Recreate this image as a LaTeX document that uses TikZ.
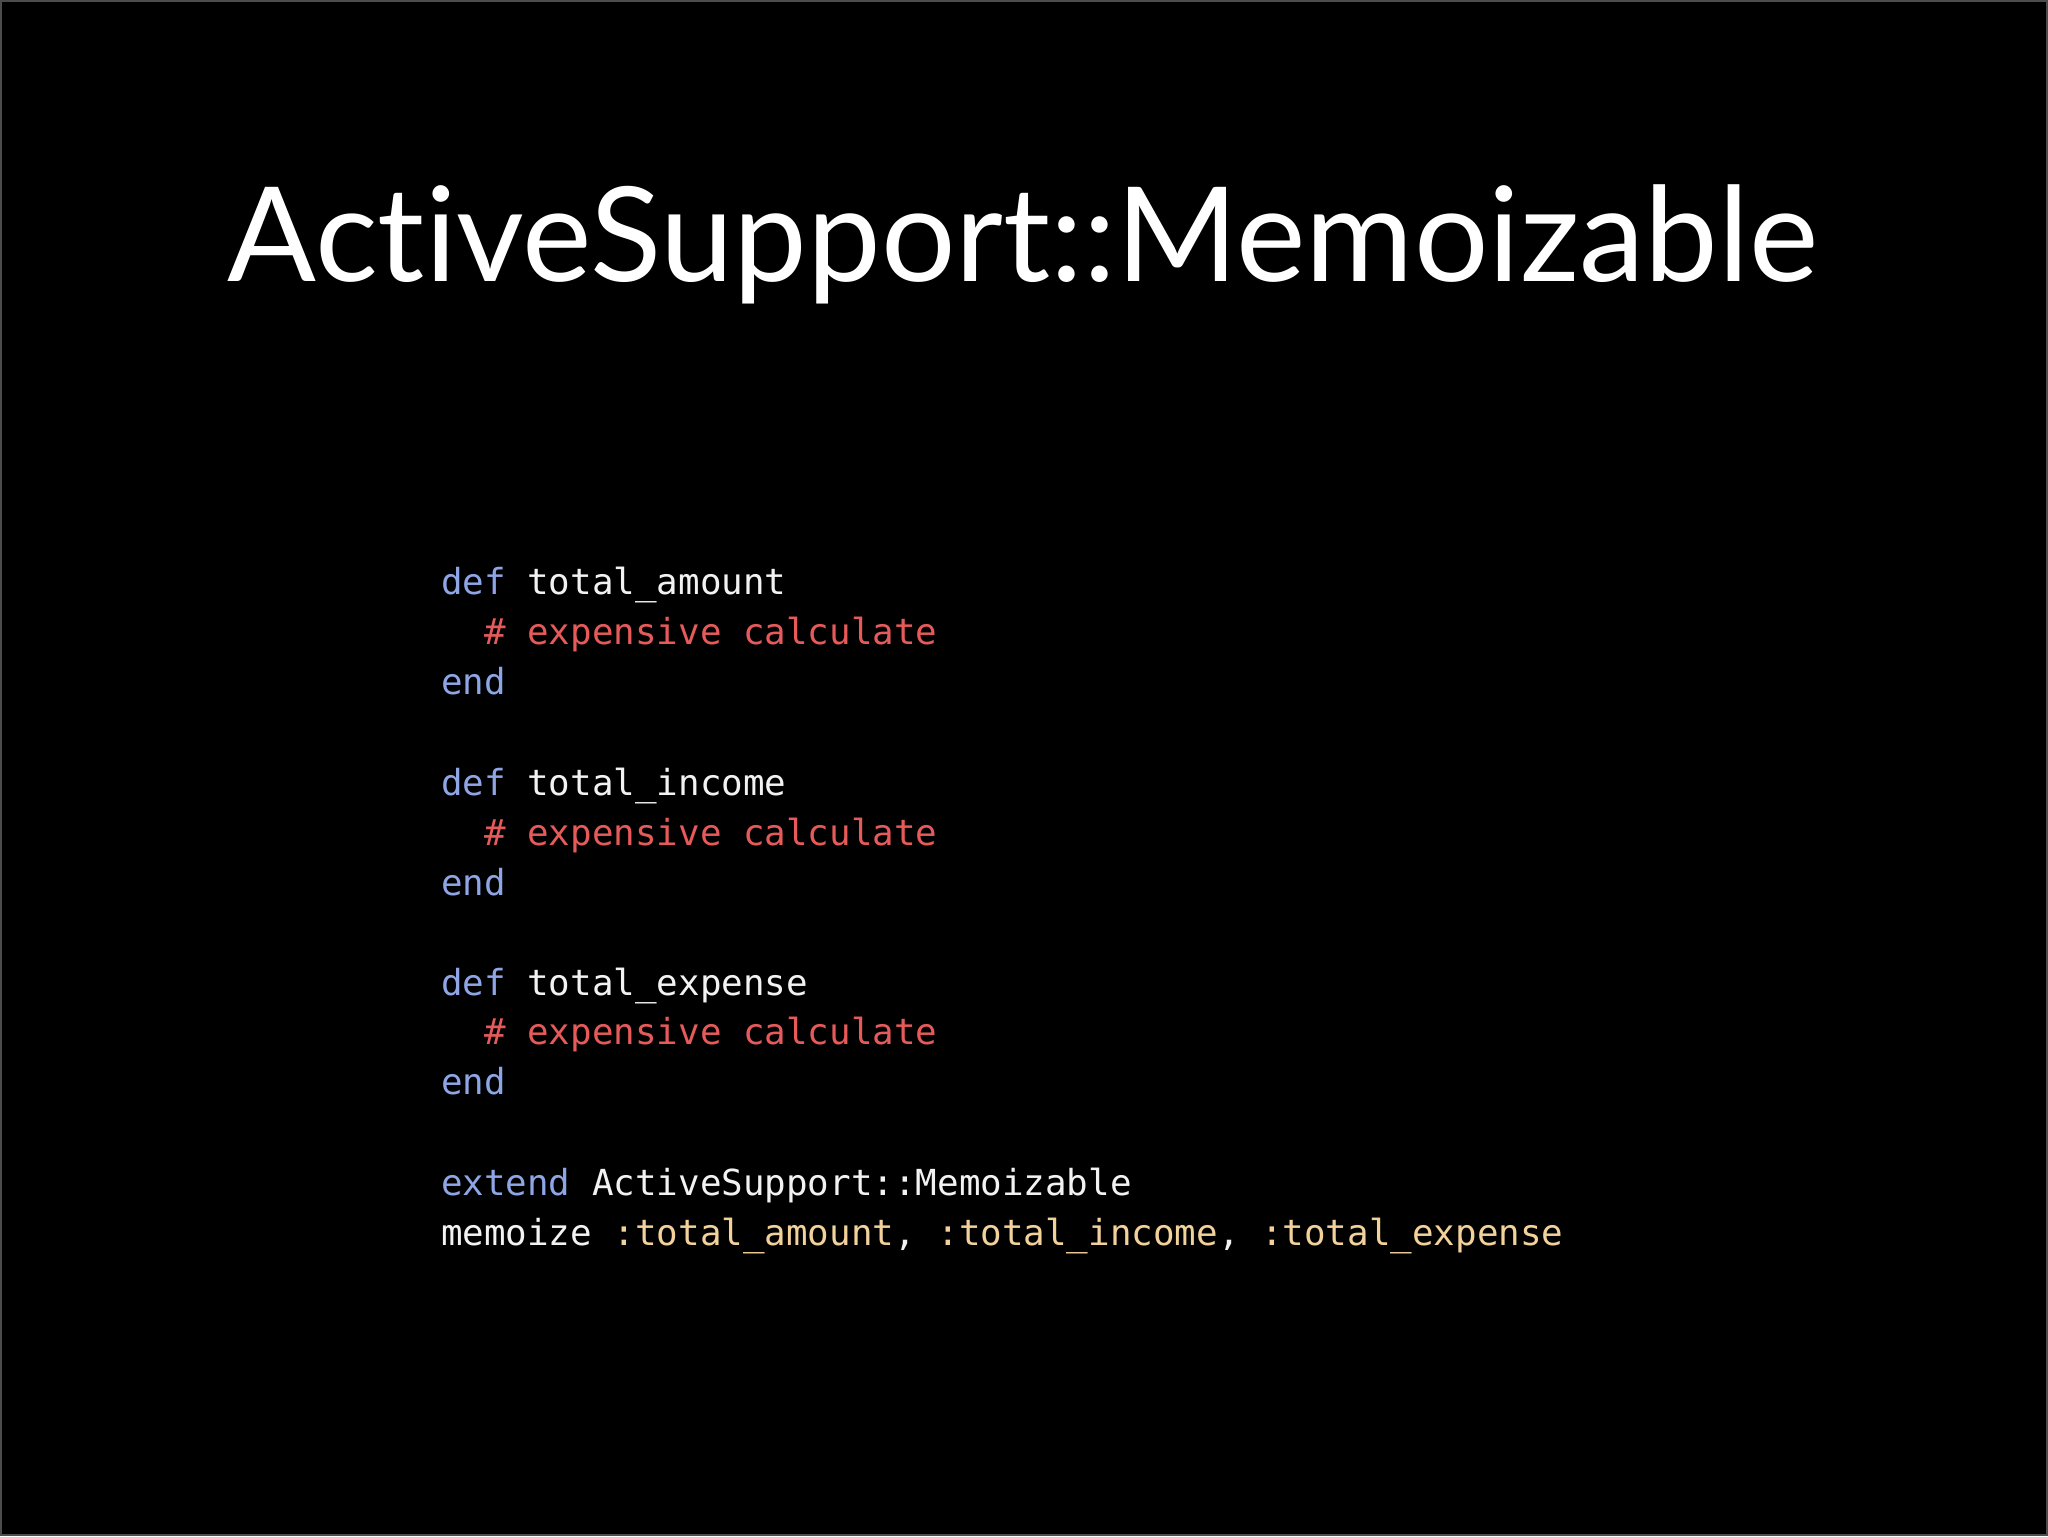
\documentclass[tikz,border=0pt]{standalone}
\usepackage{fontspec}
\setmainfont[Ligatures={NoCommon}]{Lato}
\setmonofont{DejaVu Sans Mono}
\definecolor{kw}{HTML}{8FA6E6}
\definecolor{cm}{HTML}{E65A5A}
\definecolor{sy}{HTML}{F2D29A}
\definecolor{fg}{HTML}{F2F2F2}
\begin{document}
\begin{tikzpicture}[x=0.01cm,y=-0.01cm,
  code/.style={anchor=base west,inner sep=0,text=fg,font=\ttfamily\fontsize{10.2pt}{12pt}\selectfont}]
\fill[black] (0,0) rectangle (2048,1536);
\draw[gray!60!black,line width=0.6pt] (0.5,0.5) rectangle (2047.5,1535.5);
\node[anchor=base,inner sep=0,text=white,font=\fontsize{37.4pt}{40pt}\selectfont] (title) at (1023,281) {ActiveSupport::Memoizable};
\def\L{440}
\node[code] (l1) at (\L,594) {\textcolor{kw}{def} total\_amount};
\node[code] (l2) at (\L,644) {\textcolor{cm}{\ \ \# expensive calculate}};
\node[code] (l3) at (\L,694) {\textcolor{kw}{end}};
\node[code] (l5) at (\L,795) {\textcolor{kw}{def} total\_income};
\node[code] (l6) at (\L,845) {\textcolor{cm}{\ \ \# expensive calculate}};
\node[code] (l7) at (\L,895) {\textcolor{kw}{end}};
\node[code] (l9) at (\L,995) {\textcolor{kw}{def} total\_expense};
\node[code] (l10) at (\L,1045) {\textcolor{cm}{\ \ \# expensive calculate}};
\node[code] (l11) at (\L,1095) {\textcolor{kw}{end}};
\node[code] (l13) at (\L,1196) {\textcolor{kw}{extend} ActiveSupport::Memoizable};
\node[code] (l14) at (\L,1246) {memoize \textcolor{sy}{:total\_amount}, \textcolor{sy}{:total\_income}, \textcolor{sy}{:total\_expense}};
\end{tikzpicture}
\end{document}
